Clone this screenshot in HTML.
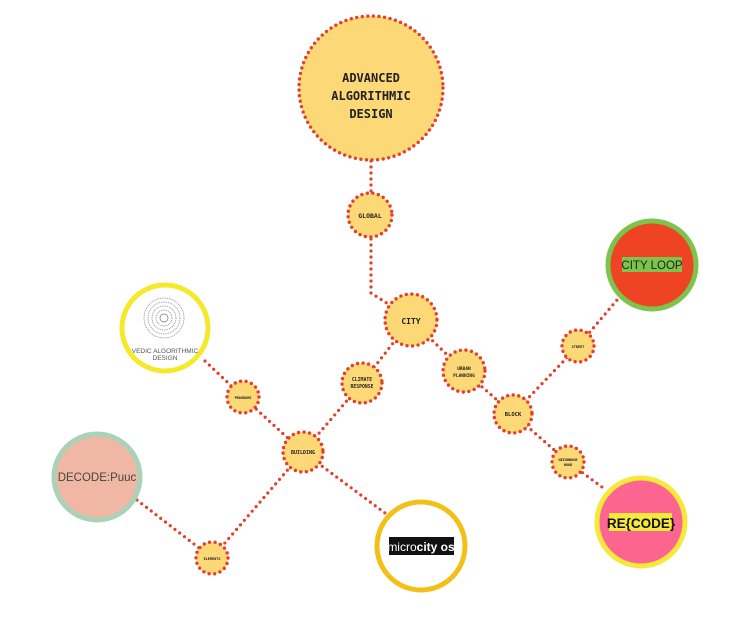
<!DOCTYPE html>
<html><head><style>
html,body{margin:0;padding:0;background:#fff;}
svg{display:block}
.m{font-family:"DejaVu Sans Mono","Liberation Mono",monospace;font-weight:bold;fill:#222;text-anchor:middle}
</style></head><body>
<svg width="730" height="618" viewBox="0 0 730 618" xmlns="http://www.w3.org/2000/svg">
<g fill="none" stroke="#e43f2b" stroke-width="3.2" stroke-linecap="round" stroke-dasharray="0 6">
<polyline points="371,161 371,293 388,304"/>
<line x1="411" y1="320" x2="362" y2="383"/>
<line x1="362" y1="383" x2="303" y2="452"/>
<line x1="205" y1="361" x2="243" y2="397"/>
<line x1="243" y1="397" x2="303" y2="452"/>
<line x1="303" y1="452" x2="212" y2="558"/>
<line x1="303" y1="452" x2="385" y2="513"/>
<line x1="137" y1="500" x2="212" y2="558"/>
<line x1="411" y1="320" x2="464" y2="371"/>
<line x1="464" y1="371" x2="513" y2="414"/>
<line x1="513" y1="414" x2="578" y2="346"/>
<line x1="578" y1="346" x2="617" y2="300"/>
<line x1="513" y1="414" x2="568" y2="462"/>
<line x1="568" y1="462" x2="606" y2="490"/>
</g>
<g fill="#fdd877" stroke="#e43f2b" stroke-width="3.4" stroke-linecap="round" stroke-dasharray="0 5.6">
<circle cx="371" cy="88" r="72"/>
<circle cx="370" cy="215" r="22"/>
<circle cx="411" cy="320" r="26"/>
<circle cx="362" cy="383" r="20"/>
<circle cx="243" cy="397" r="16"/>
<circle cx="303" cy="452" r="20"/>
<circle cx="212" cy="558" r="16"/>
<circle cx="464" cy="371" r="21"/>
<circle cx="513" cy="414" r="19"/>
<circle cx="578" cy="346" r="16"/>
<circle cx="568" cy="462" r="16"/>
</g>
<circle cx="165" cy="328" r="43" fill="#fff" stroke="#f5e92a" stroke-width="5"/>
<g stroke="#777" stroke-width="0.7" fill="none">
<circle cx="164" cy="318" r="20" stroke-dasharray="1 0.8"/>
<circle cx="164" cy="318" r="16" stroke-dasharray="1 0.8"/>
<circle cx="164" cy="318" r="12" stroke-dasharray="1 0.8"/>
<circle cx="164" cy="318" r="8" stroke-dasharray="1 0.8"/>
<circle cx="164" cy="318" r="4"/>
</g>
<text x="165" y="353" font-family="Liberation Sans,sans-serif" font-size="6.5" fill="#555" text-anchor="middle">VEDIC ALGORITHMIC</text>
<text x="165" y="360" font-family="Liberation Sans,sans-serif" font-size="6.5" fill="#555" text-anchor="middle">DESIGN</text>
<circle cx="97" cy="477" r="43" fill="#f0b8a4" stroke="#a9d2b9" stroke-width="5"/>
<text x="97" y="481" font-family="Liberation Sans,sans-serif" font-size="11.5" fill="#444" text-anchor="middle">DECODE:Puuc</text>
<circle cx="421" cy="546" r="44" fill="#fff" stroke="#f2c018" stroke-width="5"/>
<rect x="389" y="537" width="65" height="18" fill="#111"/>
<text x="421" y="551" font-family="Liberation Sans,sans-serif" font-size="12" fill="#fff" text-anchor="middle">micro<tspan font-weight="bold">city os</tspan></text>
<circle cx="652" cy="265" r="44" fill="#ef4424" stroke="#7cc44b" stroke-width="5"/>
<rect x="622" y="257" width="60" height="15" fill="#7cc44b"/>
<text x="652" y="269" font-family="Liberation Sans,sans-serif" font-size="11.5" fill="#222" text-anchor="middle">CITY LOOP</text>
<circle cx="641" cy="522" r="44" fill="#fc6590" stroke="#f7e93a" stroke-width="5"/>
<rect x="609" y="513" width="63" height="18" fill="#f7e93a"/>
<text x="641" y="528" font-family="Liberation Sans,sans-serif" font-size="13.5" font-weight="bold" fill="#111" text-anchor="middle">RE{CODE}</text>
<text class="m" x="371" y="82" font-size="12">ADVANCED</text>
<text class="m" x="371" y="100" font-size="12">ALGORITHMIC</text>
<text class="m" x="371" y="118" font-size="12">DESIGN</text>
<text class="m" x="370" y="218" font-size="6.5">GLOBAL</text>
<text class="m" x="411" y="324" font-size="8">CITY</text>
<text class="m" x="362" y="381" font-size="4.8">CLIMATE</text>
<text class="m" x="362" y="388" font-size="4.8">RESPONSE</text>
<text class="m" x="243" y="399" font-size="3.5">PROGRAMS</text>
<text class="m" x="303" y="454" font-size="5">BUILDING</text>
<text class="m" x="212" y="560" font-size="3.5">ELEMENTS</text>
<text class="m" x="464" y="370" font-size="4.5">URBAN</text>
<text class="m" x="464" y="377" font-size="4.5">PLANNING</text>
<text class="m" x="513" y="416" font-size="5.5">BLOCK</text>
<text class="m" x="578" y="348" font-size="3.5">STREET</text>
<text class="m" x="568" y="461" font-size="3.5">NEIGHBOUR</text>
<text class="m" x="568" y="466" font-size="3.5">HOOD</text>
</svg>
</body></html>
